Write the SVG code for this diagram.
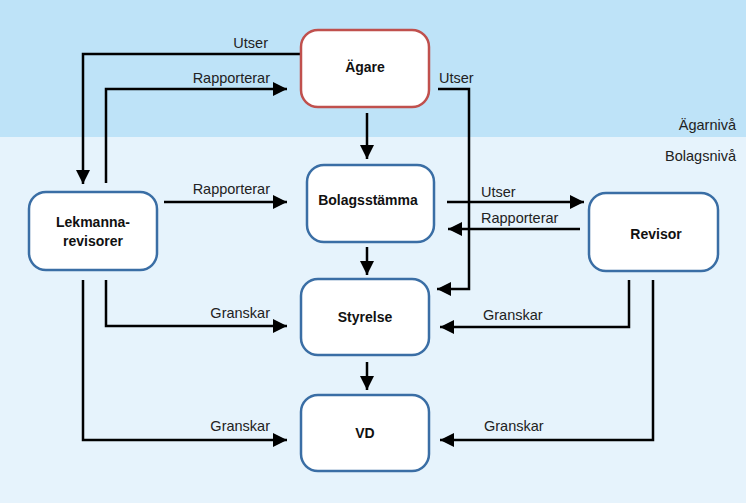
<svg xmlns="http://www.w3.org/2000/svg" width="746" height="503" viewBox="0 0 746 503">
<style>
.node{fill:#fff;stroke:#3A6EA5;stroke-width:2.5}
.own{fill:#fff;stroke:#C0504D;stroke-width:2.5}
.nt{font-family:"Liberation Sans",Arial,sans-serif;font-size:14px;font-weight:bold;fill:#111;text-anchor:middle}
.lb{font-family:"Liberation Sans",Arial,sans-serif;font-size:14.5px;fill:#222}
.c{fill:none;stroke:#000;stroke-width:2.5;marker-end:url(#ah)}
</style>
<defs>
<marker id="ah" markerUnits="userSpaceOnUse" markerWidth="16" markerHeight="16" viewBox="0 0 16 16" refX="14" refY="8" orient="auto">
<path d="M0,1 L14,8 L0,15 Z" fill="#000"/>
</marker>
</defs>
<rect x="0" y="0" width="746" height="137" fill="#BEE3F8"/>
<rect x="0" y="137" width="746" height="366" fill="#E6F3FC"/>
<text class="lb" x="736" y="130" text-anchor="end">Ägarnivå</text>
<text class="lb" x="736" y="161" text-anchor="end">Bolagsnivå</text>
<g id="connectors">
<polyline class="c" points="301,54 83,54 83,184"/>
<polyline class="c" points="106,183 106,89 287,89"/>
<polyline class="c" points="438,89 469,89 469,289 437,289"/>
<line class="c" x1="367" y1="113" x2="367" y2="159"/>
<line class="c" x1="164" y1="202" x2="287" y2="202"/>
<line class="c" x1="447" y1="202" x2="584" y2="202"/>
<line class="c" x1="580" y1="229" x2="448" y2="229"/>
<line class="c" x1="367" y1="247" x2="367" y2="275"/>
<line class="c" x1="367" y1="362" x2="367" y2="390"/>
<polyline class="c" points="106,280 106,326 287,326"/>
<polyline class="c" points="83,280 83,440 287,440"/>
<polyline class="c" points="629,280 629,327 440,327"/>
<polyline class="c" points="653,280 653,440 440,440"/>
<text class="lb" x="268" y="48" text-anchor="end">Utser</text>
<text class="lb" x="270" y="83" text-anchor="end">Rapporterar</text>
<text class="lb" x="439" y="83">Utser</text>
<text class="lb" x="270" y="194" text-anchor="end">Rapporterar</text>
<text class="lb" x="481" y="197">Utser</text>
<text class="lb" x="481" y="223">Rapporterar</text>
<text class="lb" x="270" y="318" text-anchor="end">Granskar</text>
<text class="lb" x="270" y="431" text-anchor="end">Granskar</text>
<text class="lb" x="483" y="320">Granskar</text>
<text class="lb" x="484" y="431">Granskar</text>
</g>
<g id="agare">
<rect class="own" x="301" y="30" width="128" height="77" rx="17"/>
<text class="nt" x="365" y="72">Ägare</text>
</g>
<g id="bolagsstamma">
<rect class="node" x="307" y="165" width="127" height="77" rx="17"/>
<text class="nt" x="368" y="205">Bolagsstämma</text>
</g>
<g id="lekmanna">
<rect class="node" x="29" y="192" width="128" height="78" rx="17"/>
<text class="nt" x="93" y="227">Lekmanna-</text>
<text class="nt" x="93" y="246">revisorer</text>
</g>
<g id="revisor">
<rect class="node" x="589" y="193" width="129" height="78" rx="17"/>
<text class="nt" x="656" y="239">Revisor</text>
</g>
<g id="styrelse">
<rect class="node" x="301" y="279" width="128" height="76" rx="17"/>
<text class="nt" x="365" y="322">Styrelse</text>
</g>
<g id="vd">
<rect class="node" x="301" y="395" width="128" height="76" rx="17"/>
<text class="nt" x="365" y="438">VD</text>
</g>
</svg>
